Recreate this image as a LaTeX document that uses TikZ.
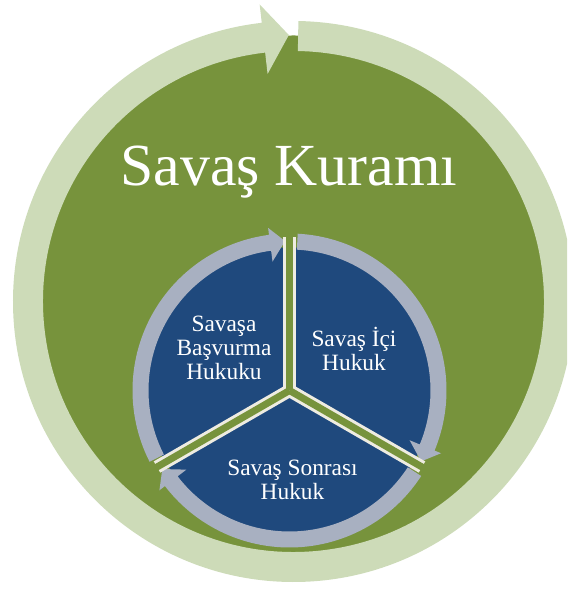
\documentclass[tikz,border=0pt]{standalone}
\usepackage{fontspec}
\setmainfont{Liberation Serif}
\usetikzlibrary{positioning}

\definecolor{ringlight}{RGB}{205,219,184}
\definecolor{olivegreen}{RGB}{119,147,60}
\definecolor{sectorblue}{RGB}{31,73,125}
\definecolor{arrowgray}{RGB}{168,176,193}
\definecolor{cream}{RGB}{238,236,225}

\begin{document}
\begin{tikzpicture}[x=0.02cm, y=0.02cm]
        \useasboundingbox (-293.5,-288.5) rectangle (273.5,301.5);
        \clip (-293.5,-288.5) rectangle (273.5,301.5);

        % big circle and its ring arrow
        \fill[olivegreen] (0,0) circle[radius=266];
        \fill[ringlight] (89:280.5) arc[start angle=89, end angle=-263.5, radius=280.5]
          -- (-263.5:299) -- (-269:266.5) -- (-263.5:229) -- (-263.5:250.5)
          arc[start angle=-263.5, end angle=89, radius=250.5] -- cycle;

        % inner circle
        \begin{scope}[shift={(-4,-89)}]
          \fill[sectorblue] (0,0) circle[radius=143];

          % cycle arrows
          \foreach \r in {0,120,240}
            \fill[arrowgray, rotate=\r] (87:157) arc[start angle=87, end angle=-22.5, radius=157]
              -- (-22.5:164) -- (-28.3:149.5) -- (-22.5:130) -- (-22.5:141)
              arc[start angle=-22.5, end angle=87, radius=141] -- cycle;

          % gaps between the parts
          \tikzstyle{gapedge} = [cream, line width=0.26cm]
          \foreach \a in {90,-30,210}
            \draw[gapedge] (0,0) -- (\a:153);
          \tikzstyle{gapedge} = [olivegreen, line width=0.14cm]
          \foreach \a in {90,-30,210}
            \draw[gapedge] (0,0) -- (\a:170);
        \end{scope}

        \tikzstyle{every node}=[text=white, align=center, inner sep=0pt]

        % Nodes
        \node[anchor=base, font=\fontsize{34}{40}\selectfont] (kuram) at (-4.5,115.5) {Savaş Kuramı};

        \tikzstyle{every node}=[text=white, align=center, inner sep=0pt, font=\fontsize{13.3}{13.7}\selectfont]

        \node (basvurma) at (-69.5,-46) {Savaşa\\Başvurma\\Hukuku};
        \node (ici) at (60.5,-47.3) {Savaş İçi\\Hukuk};
        \node (sonrasi) at (-1,-178) {Savaş Sonrası\\Hukuk};

      \end{tikzpicture}
\end{document}
